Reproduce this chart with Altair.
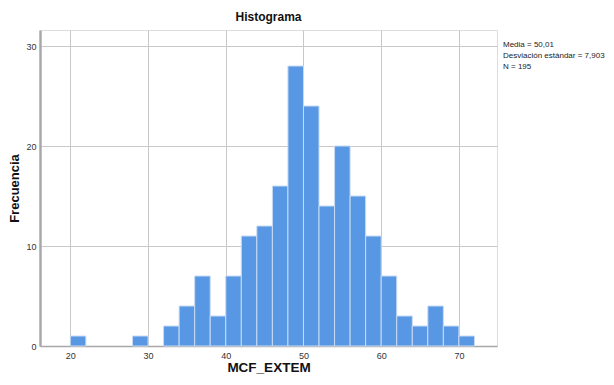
import altair as alt
import pandas as pd

bin_start = [20, 28, 32, 34, 36, 38, 40, 42, 44, 46, 48, 50, 52, 54, 56, 58, 60, 62, 64, 66, 68, 70]
counts = [1, 1, 2, 4, 7, 3, 7, 11, 12, 16, 28, 24, 14, 20, 15, 11, 7, 3, 2, 4, 2, 1]
bin_width = 2
x_ticks = [20, 30, 40, 50, 60, 70]
y_ticks = [0, 10, 20, 30]
stats_lines = ["Media = 50,01", "Desviación estándar = 7,903", "N = 195"]

df = pd.DataFrame({"start": bin_start, "count": counts})
df["end"] = df["start"] + bin_width

FONT = "Liberation Sans"

bars = alt.Chart(df).mark_bar(
    color="#5797E4", stroke="#C9DBF3", strokeWidth=1, orient="vertical"
).encode(
    x=alt.X("start:Q",
            scale=alt.Scale(domain=[16.1, 74.9], nice=False, zero=False, padding=0),
            axis=alt.Axis(values=x_ticks, title="MCF_EXTEM", grid=True,
                          gridColor="#C8C8C8", gridWidth=1,
                          domainColor="#A8A8A8", domainWidth=1.5,
                          ticks=False, labelFontSize=9, labelColor="#333333",
                          labelPadding=5, titleFontSize=13.5, titleFont=FONT,
                          titleFontWeight="bold", titlePadding=0,
                          labelFont=FONT, titleColor="#111111")),
    x2="end:Q",
    y=alt.Y("count:Q",
            scale=alt.Scale(domain=[0, 31.6], nice=False),
            axis=alt.Axis(values=y_ticks, title="Frecuencia", grid=True,
                          gridColor="#C8C8C8", gridWidth=1,
                          domainColor="#A8A8A8", domainWidth=2.5,
                          ticks=False, labelFontSize=9, labelColor="#333333",
                          labelPadding=4, titleFontSize=13, titleFont=FONT,
                          titleFontWeight="bold", titlePadding=4,
                          labelFont=FONT, titleColor="#111111")),
    y2=alt.datum(0),
)

layers = [bars]
for i, line in enumerate(stats_lines):
    layers.append(
        alt.Chart(pd.DataFrame({"line": [line]})).mark_text(
            align="left", baseline="middle", fontSize=8, font=FONT, color="#222222"
        ).encode(text="line:N", x=alt.value(463), y=alt.value(15 + 11 * i))
    )

chart = alt.layer(*layers).properties(
    width=457, height=316,
    title=alt.TitleParams("Histograma", fontSize=12, font=FONT, fontWeight="bold",
                          anchor="middle", offset=6, color="#111111"),
    autosize=alt.AutoSizeParams(type="none"),
    padding={"left": 32, "top": 22, "right": 109, "bottom": 31},
).configure_view(stroke=None).configure(background="white")

chart.save("out.html", embed_options={"renderer": "svg", "actions": False})
